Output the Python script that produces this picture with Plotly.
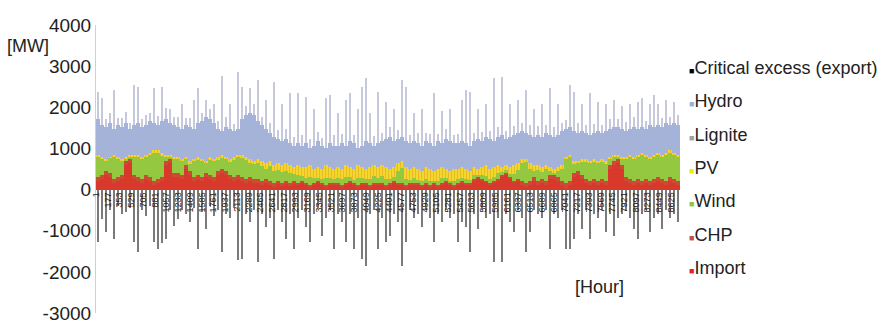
import plotly.graph_objects as go

# 146 bins of 60 hours each (bin centres in hours)
hours = list(range(30, 8760, 60))

import_mw = [
    200, 250, 350, 300, 150, 200, 250, 600, 650, 250,
    200, 150, 250, 200, 100, 150, 200, 600, 650, 300,
    300, 250, 500, 350, 200, 250, 200, 300, 250, 200,
    350, 400, 350, 250, 200, 250, 200, 150, 200, 150,
    170, 120, 170, 120, 70, 140, 90, 140, 90, 140,
    100, 150, 100, 50, 100, 150, 100, 50, 100, 100,
    100, 50, 100, 150, 100, 50, 100, 100, 50, 100,
    100, 100, 50, 100, 150, 100, 100, 50, 100, 100,
    100, 50, 100, 50, 100, 50, 100, 150, 100, 50,
    100, 150, 100, 100, 200, 250, 200, 150, 100, 150,
    200, 300, 350, 250, 150, 200, 120, 70, 120, 220,
    100, 150, 100, 250, 250, 200, 100, 50, 100, 300,
    350, 250, 150, 100, 150, 100, 150, 100, 500, 600,
    650, 500, 200, 150, 100, 150, 100, 150, 100, 150,
    200, 150, 100, 200, 150, 100]

chp_mw = [
    100, 100, 100, 100, 100, 100, 100, 100, 100, 100,
    100, 100, 100, 100, 100, 100, 100, 100, 100, 100,
    100, 100, 100, 100, 100, 100, 100, 100, 100, 100,
    100, 100, 100, 100, 100, 100, 100, 100, 100, 100,
    80, 80, 80, 80, 80, 60, 60, 60, 60, 60,
    50, 50, 50, 50, 50, 50, 50, 50, 50, 50,
    50, 50, 50, 50, 50, 50, 50, 50, 50, 50,
    50, 50, 50, 50, 50, 50, 50, 50, 50, 50,
    50, 50, 50, 50, 50, 50, 50, 50, 50, 50,
    50, 50, 50, 50, 50, 50, 50, 50, 50, 50,
    50, 50, 50, 50, 50, 50, 80, 80, 80, 80,
    100, 100, 100, 100, 100, 100, 100, 100, 100, 100,
    100, 100, 100, 100, 100, 100, 100, 100, 100, 100,
    100, 100, 100, 100, 100, 100, 100, 100, 100, 100,
    100, 100, 100, 100, 100, 100]

wind_mw = [
    510, 390, 250, 370, 530, 450, 360, 40, 50, 460,
    500, 510, 440, 550, 710, 650, 520, 100, 60, 340,
    340, 350, 160, 180, 390, 370, 400, 240, 380, 390,
    280, 270, 290, 310, 420, 430, 460, 470, 350, 360,
    400, 380, 250, 370, 290, 270, 280, 250, 260, 170,
    200, 130, 120, 200, 120, 90, 110, 180, 130, 100,
    130, 150, 150, 110, 90, 180, 120, 100, 150, 170,
    140, 170, 150, 100, 110, 300, 370, 160, 90, 130,
    90, 100, 110, 100, 60, 100, 120, 80, 70, 100,
    100, 90, 110, 80, 100, 60, 100, 120, 100, 110,
    150, 80, 80, 90, 180, 220, 450, 510, 310, 150,
    280, 170, 290, 100, 60, 140, 300, 590, 580, 220,
    190, 330, 420, 440, 430, 440, 430, 420, 150, 110,
    60, 150, 440, 550, 560, 540, 650, 560, 550, 540,
    550, 560, 640, 600, 610, 600]

pv_mw = [
    40, 60, 50, 30, 70, 50, 40, 60, 50, 40,
    50, 40, 60, 50, 40, 50, 80, 50, 40, 60,
    60, 50, 40, 70, 60, 80, 50, 60, 70, 60,
    70, 80, 60, 90, 80, 70, 90, 80, 100, 90,
    100, 120, 150, 130, 160, 180, 170, 200, 190, 180,
    250, 220, 280, 300, 230, 260, 240, 320, 270, 250,
    270, 250, 300, 240, 260, 320, 280, 250, 300, 280,
    260, 280, 300, 250, 240, 200, 180, 290, 260, 270,
    260, 250, 290, 300, 240, 300, 280, 220, 230, 300,
    250, 260, 240, 220, 200, 140, 200, 280, 250, 240,
    200, 120, 120, 160, 220, 180, 100, 90, 140, 150,
    120, 130, 110, 100, 90, 110, 100, 60, 70, 80,
    60, 70, 80, 60, 70, 60, 70, 80, 50, 40,
    40, 50, 60, 50, 40, 60, 50, 40, 50, 60,
    50, 40, 60, 50, 40, 50]

hydro_mw = [
    870, 770, 770, 820, 620, 770, 770, 820, 620, 720,
    770, 720, 720, 770, 670, 620, 770, 870, 770, 770,
    720, 720, 770, 820, 720, 820, 920, 1070, 920, 870,
    670, 570, 720, 720, 620, 620, 870, 1020, 1120, 1120,
    920, 870, 820, 670, 670, 570, 570, 570, 520, 520,
    520, 520, 570, 420, 570, 620, 570, 420, 570, 570,
    520, 620, 470, 620, 620, 420, 520, 670, 570, 470,
    570, 570, 670, 770, 620, 570, 570, 620, 620, 620,
    620, 620, 620, 620, 620, 670, 570, 720, 720, 620,
    620, 620, 620, 620, 620, 720, 620, 670, 720, 620,
    670, 770, 620, 720, 720, 720, 670, 620, 670, 670,
    720, 720, 770, 770, 770, 770, 820, 670, 670, 720,
    670, 670, 620, 620, 620, 720, 620, 720, 670, 670,
    670, 670, 620, 620, 720, 620, 620, 620, 770, 670,
    670, 670, 720, 620, 720, 720]

# thin peaking spikes sitting on top of the stack
lignite_mw = [
    650, 650, 200, 250, 950, 180, 220, 260, 150, 970,
    880, 200, 250, 180, 850, 220, 830, 260, 350, 200,
    250, 600, 180, 220, 700, 850, 200, 400, 230, 450,
    200, 1350, 250, 600, 180, 1390, 770, 220, 590, 250,
    990, 200, 700, 250, 1350, 220, 900, 260, 1220, 200,
    1220, 250, 1140, 200, 900, 230, 180, 1200, 1180, 250,
    800, 220, 1100, 1170, 200, 950, 1430, 1530, 750, 230,
    1250, 200, 900, 250, 800, 220, 1400, 1330, 200, 700,
    250, 900, 200, 230, 1270, 180, 800, 250, 800, 200,
    220, 1000, 1300, 1300, 200, 750, 230, 800, 200, 1530,
    250, 1420, 200, 800, 230, 800, 200, 1050, 250, 700,
    220, 800, 200, 1150, 250, 750, 200, 220, 1020, 950,
    250, 650, 200, 1020, 230, 700, 200, 650, 250, 650,
    200, 550, 220, 600, 250, 650, 700, 200, 500, 780,
    500, 220, 550, 200, 500, 250]

excess_mw = [
    -1280, -720, -1030, -500, -1200, -400, -600, -550, -450, -1280,
    -1520, -500, -650, -400, -1280, -1440, -1300, -1200, -500, -880,
    -720, -500, -600, -800, -450, -1440, -550, -960, -400, -650,
    -500, -1520, -600, -700, -450, -1700, -1690, -600, -800, -500,
    -1760, -600, -900, -700, -1690, -500, -800, -1200, -600, -1440,
    -700, -500, -900, -1280, -600, -450, -1120, -700, -500, -1440,
    -600, -800, -1280, -600, -1440, -700, -1690, -1850, -600, -500,
    -1440, -700, -1280, -1120, -600, -800, -1850, -1280, -500, -700,
    -600, -900, -500, -700, -1280, -600, -800, -500, -700, -600,
    -1280, -800, -900, -1520, -600, -960, -500, -700, -600, -1760,
    -700, -1760, -600, -800, -1040, -500, -700, -1520, -1040, -500,
    -600, -700, -500, -1440, -600, -700, -500, -1440, -1440, -1200,
    -600, -960, -500, -1200, -600, -700, -500, -1040, -600, -1120,
    -700, -600, -500, -700, -960, -1200, -600, -500, -1040, -700,
    -600, -960, -500, -700, -600, -790]

tick_labels = ["1", "177", "353", "529", "705", "881", "1057", "1233", "1409",
               "1585", "1761", "1937", "2113", "2289", "2465", "2641", "2817",
               "2993", "3169", "3345", "3521", "3697", "3873", "4049", "4225",
               "4401", "4577", "4753", "4929", "5105", "5281", "5457", "5633",
               "5809", "5985", "6161", "6337", "6513", "6689", "6865", "7041",
               "7217", "7393", "7569", "7745", "7921", "8097", "8273", "8449",
               "8625"]
y_ticks = [-3000, -2000, -1000, 0, 1000, 2000, 3000, 4000]
y_tick_text = ["-3000", "-2000", "-1000", "0", "1000", "2000", "3000", "4000"]

legend_names = ["Critical excess (export)", "Hydro", "Lignite", "PV", "Wind", "CHP", "Import"]
legend_colors = ["#000000", "#9fb0d8", "#a0a0a0", "#f2ee00", "#8cc63f", "#c0504d", "#e8231c"]

FONT = "Liberation Sans, Arial, sans-serif"

fig = go.Figure()

stack = [
    (import_mw, "#d8392a", 60, None),
    (chp_mw, "#cc4a36", 60, None),
    (wind_mw, "#94c840", 60, None),
    (pv_mw, "#f2e52a", 60, dict(shape="|", fgcolor="#e98a2c", size=3, solidity=0.5)),
    (hydro_mw, "#a6b3d8", 60, None),
    (lignite_mw, "#c6c9dc", 20, None),
]
for vals, col, w, pat in stack:
    mk = dict(color=col, line=dict(width=0))
    if pat:
        mk["pattern"] = pat
    fig.add_trace(go.Bar(x=hours, y=vals, width=w, marker=mk,
                         showlegend=False, hoverinfo="skip"))

fig.add_trace(go.Bar(x=hours, y=excess_mw, width=22, marker_color="#7a7a7a",
                     marker_line_width=0, showlegend=False, hoverinfo="skip"))

for i, (nm, col) in enumerate(zip(legend_names, legend_colors)):
    fig.add_trace(go.Scatter(
        x=[None], y=[None], mode="markers",
        marker=dict(size=1, color="rgba(0,0,0,0)"),
        name='<span style="font-size:9px;color:%s">■</span>%s' % (col, nm),
        legendgroup="g%d" % i, showlegend=True))

fig.update_layout(
    width=887, height=323,
    margin=dict(l=96, r=207, t=25, b=10, autoexpand=False),
    paper_bgcolor="white", plot_bgcolor="white",
    barmode="relative", bargap=0,
    font=dict(family=FONT, color="#222222"),
    showlegend=True,
    legend=dict(x=0.947, y=0.918, xanchor="left", yanchor="top",
                font=dict(size=18, family=FONT, color="#222222"),
                traceorder="grouped", tracegroupgap=7, itemwidth=30,
                bgcolor="rgba(0,0,0,0)"),
    xaxis=dict(range=[0, 8760], tickvals=[int(t) for t in tick_labels],
               ticktext=tick_labels, tickangle=-90, showgrid=False,
               zeroline=False, showline=False, ticks="", automargin=False,
               tickfont=dict(size=9, family=FONT, color="#222222"),
               anchor="free", position=3 / 7),
    yaxis=dict(range=[-3000, 4000], tickvals=y_ticks, ticktext=y_tick_text,
               showgrid=False, zeroline=False, showline=True,
               linecolor="#d0d0d0", linewidth=1, automargin=False,
               ticklabeloverflow="allow",
               ticks="", tickfont=dict(size=19, family=FONT, color="#222222")),
    annotations=[
        dict(text="[MW]", x=-0.156, y=0.927, xref="paper", yref="paper",
             xanchor="left", yanchor="middle", showarrow=False,
             font=dict(size=18, family=FONT, color="#222222")),
        dict(text="[Hour]", x=0.817, y=0.09, xref="paper", yref="paper",
             xanchor="left", yanchor="middle", showarrow=False,
             font=dict(size=18, family=FONT, color="#222222")),
    ],
)

fig.write_html("out.html", config={"displayModeBar": False},
               post_script="document.body.style.margin='0';")
